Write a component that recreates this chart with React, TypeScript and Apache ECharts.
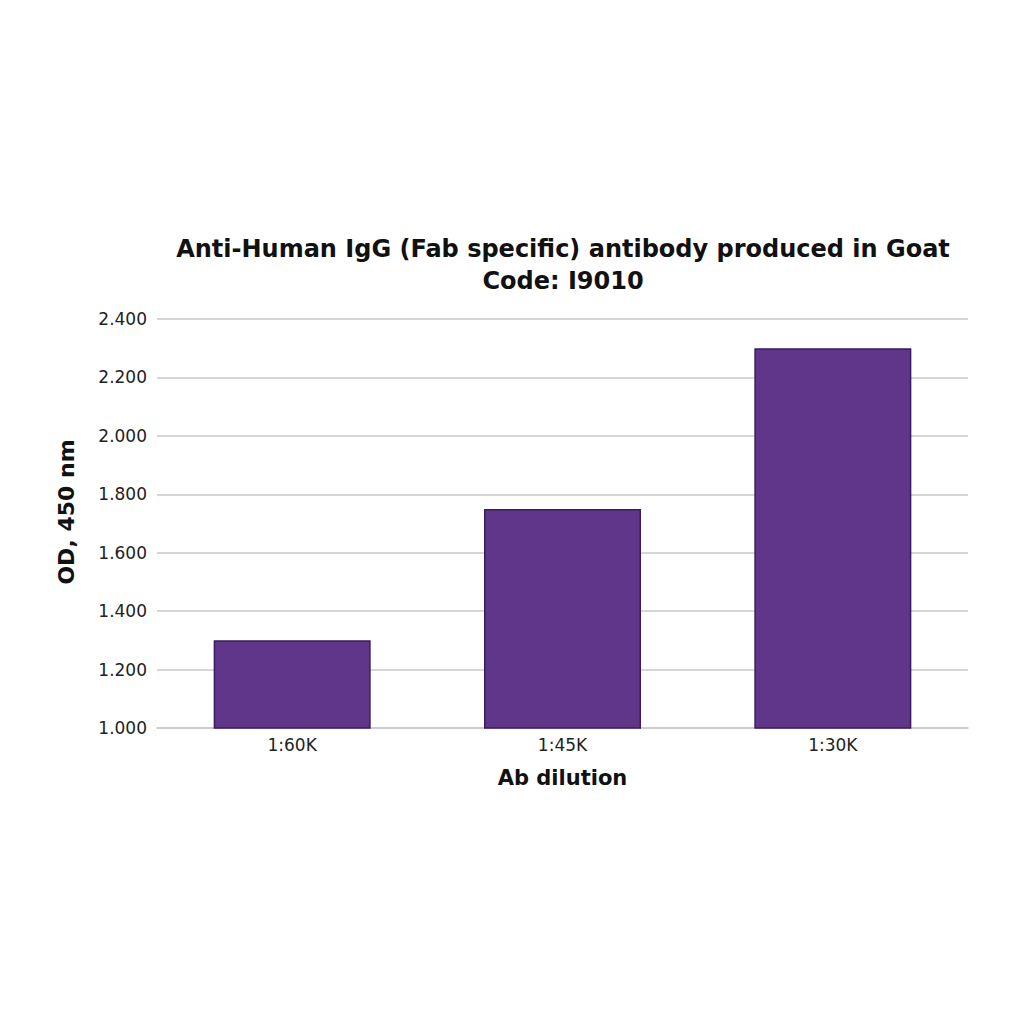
import React, { useEffect, useRef } from "react";
import * as echarts from "echarts";

const categories = ["1:60K", "1:45K", "1:30K"];
const odValues = [1.3, 1.75, 2.3];
const titleText = "Anti-Human IgG (Fab specific) antibody produced in Goat\nCode: I9010";
const xName = "Ab dilution";
const yName = "OD, 450 nm";

export default function App() {
  const ref = useRef<HTMLDivElement>(null);
  useEffect(() => {
    document.body.style.margin = "0";
    const chart = echarts.init(ref.current!, null, { renderer: "svg" });
    const font = "'DejaVu Sans', Verdana, sans-serif";
    chart.setOption({
      animation: false,
      backgroundColor: "#ffffff",
      title: {
        text: titleText,
        left: 558,
        top: 228,
        textAlign: "center",
        textStyle: {
          fontFamily: font,
          fontSize: 24,
          fontWeight: "bold",
          color: "#111",
          lineHeight: 32,
        },
      },
      graphic: [
        {
          type: "text",
          x: 66,
          y: 512,
          rotation: Math.PI / 2,
          style: {
            text: yName,
            fontFamily: font,
            fontSize: 22,
            fontWeight: "bold",
            fill: "#111",
            textAlign: "center",
            textVerticalAlign: "middle",
          },
        },
      ],
      grid: { left: 157, right: 56, top: 319, bottom: 296 },
      xAxis: {
        type: "category",
        data: categories,
        name: xName,
        nameLocation: "middle",
        nameGap: 39,
        nameTextStyle: { fontFamily: font, fontSize: 21, fontWeight: "bold", color: "#111" },
        axisLine: { lineStyle: { color: "#c8c8c8", width: 1.5 } },
        axisTick: { show: false },
        axisLabel: { fontFamily: font, fontSize: 17, color: "#222", margin: 8 },
      },
      yAxis: {
        type: "value",
        min: 1,
        max: 2.4,
        interval: 0.2,
        axisLine: { show: false },
        axisTick: { show: false },
        axisLabel: {
          fontFamily: font,
          fontSize: 17,
          color: "#222",
          margin: 10,
          formatter: (v: number) => v.toFixed(3),
        },
        splitLine: { lineStyle: { color: "#c8c8c8", width: 1.5 } },
      },
      series: [
        {
          type: "bar",
          data: odValues,
          barWidth: 157,
          itemStyle: { color: "#5f3689", borderColor: "#3a1c5e", borderWidth: 1.5 },
        },
      ],
    });
    return () => chart.dispose();
  }, []);
  return <div ref={ref} style={{ width: 1024, height: 1024 }} />;
}
